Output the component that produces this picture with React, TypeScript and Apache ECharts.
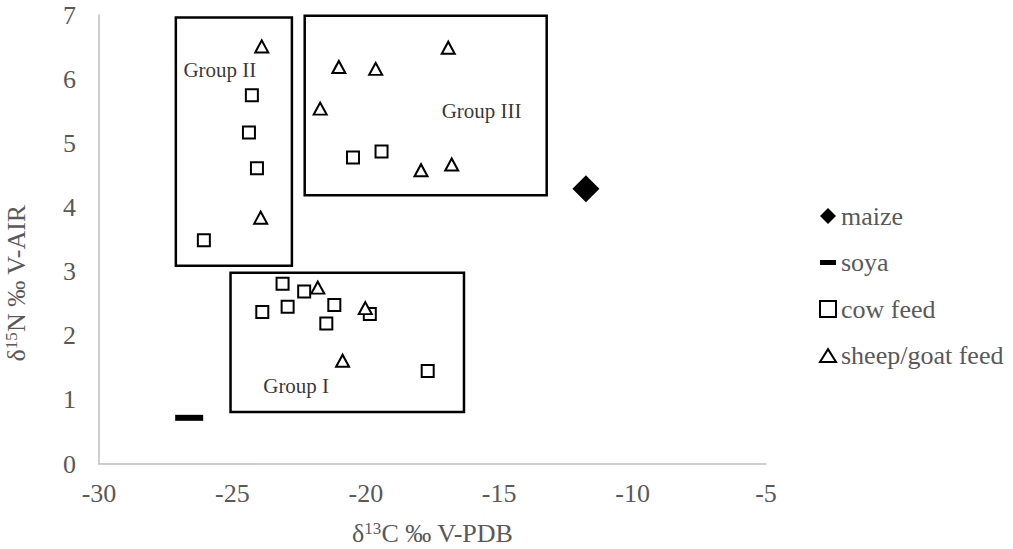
import React, { useEffect, useRef } from "react";
import * as echarts from "echarts";

const FONT = "'Liberation Serif', 'Times New Roman', serif";

// delta13C, delta15N
const maize: number[][] = [[-11.75, 4.29]];
const soya: number[][] = [[-26.62, 0.72]];
const cowFeed: number[][] = [
  [-24.27, 5.75],
  [-24.38, 5.17],
  [-24.08, 4.61],
  [-26.07, 3.49],
  [-20.48, 4.78],
  [-19.41, 4.87],
  [-23.12, 2.81],
  [-22.31, 2.69],
  [-23.88, 2.37],
  [-22.93, 2.45],
  [-21.18, 2.48],
  [-19.85, 2.34],
  [-21.48, 2.19],
  [-17.68, 1.45],
];
const sheepGoatFeed: number[][] = [
  [-23.9, 6.51],
  [-21.01, 6.19],
  [-19.63, 6.16],
  [-21.71, 5.54],
  [-16.91, 6.49],
  [-17.93, 4.58],
  [-16.78, 4.67],
  [-23.94, 3.84],
  [-21.8, 2.75],
  [-20.02, 2.43],
  [-20.87, 1.61],
];

// group boxes: [xMin, yMax, xMax, yMin]
const groupNames = ["Group II", "Group III", "Group I"];
const groupBoxes: number[][] = [
  [-27.12, 6.96, -22.77, 3.09],
  [-22.29, 6.99, -13.22, 4.19],
  [-25.07, 2.98, -16.32, 0.81],
];
const groupLabelPos: number[][] = [
  [-25.47, 6.15],
  [-15.66, 5.5],
  [-22.61, 1.21],
];

const xTicks = { min: -30, max: -5, interval: 5 };
const yTicks = { min: 0, max: 7, interval: 1 };

const legendNames = ["maize", "soya", "cow feed", "sheep/goat feed"];

export default function App() {
  const ref = useRef<HTMLDivElement>(null);
  useEffect(() => {
    if (!ref.current) return;
    const chart = echarts.init(ref.current, null, { renderer: "svg" });
    const axisLabel = { color: "#595959", fontSize: 26, fontFamily: FONT };
    const hollow = { color: "#fff", borderColor: "#000", borderWidth: 2, opacity: 1 };
    const nameRich = {
      a: { color: "#595959", fontSize: 26, fontFamily: FONT, lineHeight: 26 },
      s: { color: "#595959", fontSize: 17, fontFamily: FONT, verticalAlign: "top", lineHeight: 26 },
    };
    chart.setOption({
      animation: false,
      backgroundColor: "#fff",
      grid: { left: 99, right: 247, top: 15, bottom: 85, outerBoundsMode: "none", containLabel: false },
      xAxis: {
        type: "value",
        min: xTicks.min,
        max: xTicks.max,
        interval: xTicks.interval,
        axisLine: { show: true, onZero: false, lineStyle: { color: "#bfbfbf", width: 1.5 } },
        axisTick: { show: false },
        splitLine: { show: false },
        axisLabel: { ...axisLabel, margin: 16 },
        name: "{a|δ}{s|13}{a|C ‰ V-PDB}",
        nameLocation: "middle",
        nameGap: 56,
        nameTextStyle: { rich: nameRich },
      },
      yAxis: {
        type: "value",
        min: yTicks.min,
        max: yTicks.max,
        interval: yTicks.interval,
        axisLine: { show: true, onZero: false, lineStyle: { color: "#bfbfbf", width: 1.5 } },
        axisTick: { show: false },
        splitLine: { show: false },
        axisLabel: { ...axisLabel, margin: 23 },
        name: "{a|δ}{s|15}{a|N ‰ V-AIR}",
        nameLocation: "middle",
        nameGap: 70,
        nameRotate: 90,
        nameTextStyle: {
          padding: [0, 87, 0, 0],
          rich: nameRich,
        },
      },
      legend: {
        orient: "vertical",
        left: 819,
        top: 203,
        padding: 0,
        itemGap: 20.5,
        itemWidth: 16,
        itemHeight: 16,
        textStyle: { color: "#595959", fontSize: 26, fontFamily: FONT },
        data: [
          { name: legendNames[0], icon: "diamond", itemStyle: { color: "#000", opacity: 1 } },
          { name: legendNames[1], icon: "path://M0,0H16V5H0Z", itemStyle: { color: "#000", opacity: 1 } },
          { name: legendNames[2], icon: "path://M0,0H13V13H0Z", itemStyle: hollow },
          { name: legendNames[3], icon: "path://M7.5,0L15,12H0Z", itemStyle: hollow },
        ],
      },
      series: [
        {
          name: "groups",
          type: "scatter",
          z: 1,
          silent: true,
          symbolSize: 0,
          data: groupLabelPos.map((p, i) => ({ value: p, name: groupNames[i] })),
          label: {
            show: true,
            position: "inside",
            formatter: "{b}",
            color: "#000",
            fontSize: 21,
            fontFamily: FONT,
          },
          markArea: {
            silent: true,
            itemStyle: { color: "rgba(0,0,0,0)", borderColor: "#000", borderWidth: 2.5, opacity: 1 },
            label: { show: false },
            data: groupBoxes.map((b) => [{ coord: [b[0], b[1]] }, { coord: [b[2], b[3]] }]),
          },
        },
        {
          name: legendNames[0],
          type: "scatter",
          z: 3,
          symbol: "diamond",
          symbolSize: 27,
          itemStyle: { color: "#000", opacity: 1 },
          data: maize,
        },
        {
          name: legendNames[1],
          type: "scatter",
          z: 3,
          symbol: "rect",
          symbolSize: [28, 6],
          itemStyle: { color: "#000", opacity: 1 },
          data: soya,
        },
        {
          name: legendNames[2],
          type: "scatter",
          z: 3,
          symbol: "rect",
          symbolSize: 12,
          itemStyle: hollow,
          data: cowFeed,
        },
        {
          name: legendNames[3],
          type: "scatter",
          z: 3,
          symbol: "triangle",
          symbolSize: [13, 12],
          itemStyle: hollow,
          data: sheepGoatFeed,
        },
      ],
    });
    return () => chart.dispose();
  }, []);
  return (
    <div
      ref={ref}
      style={{ position: "fixed", left: 0, top: 0, width: 1013, height: 549, background: "#fff" }}
    />
  );
}
